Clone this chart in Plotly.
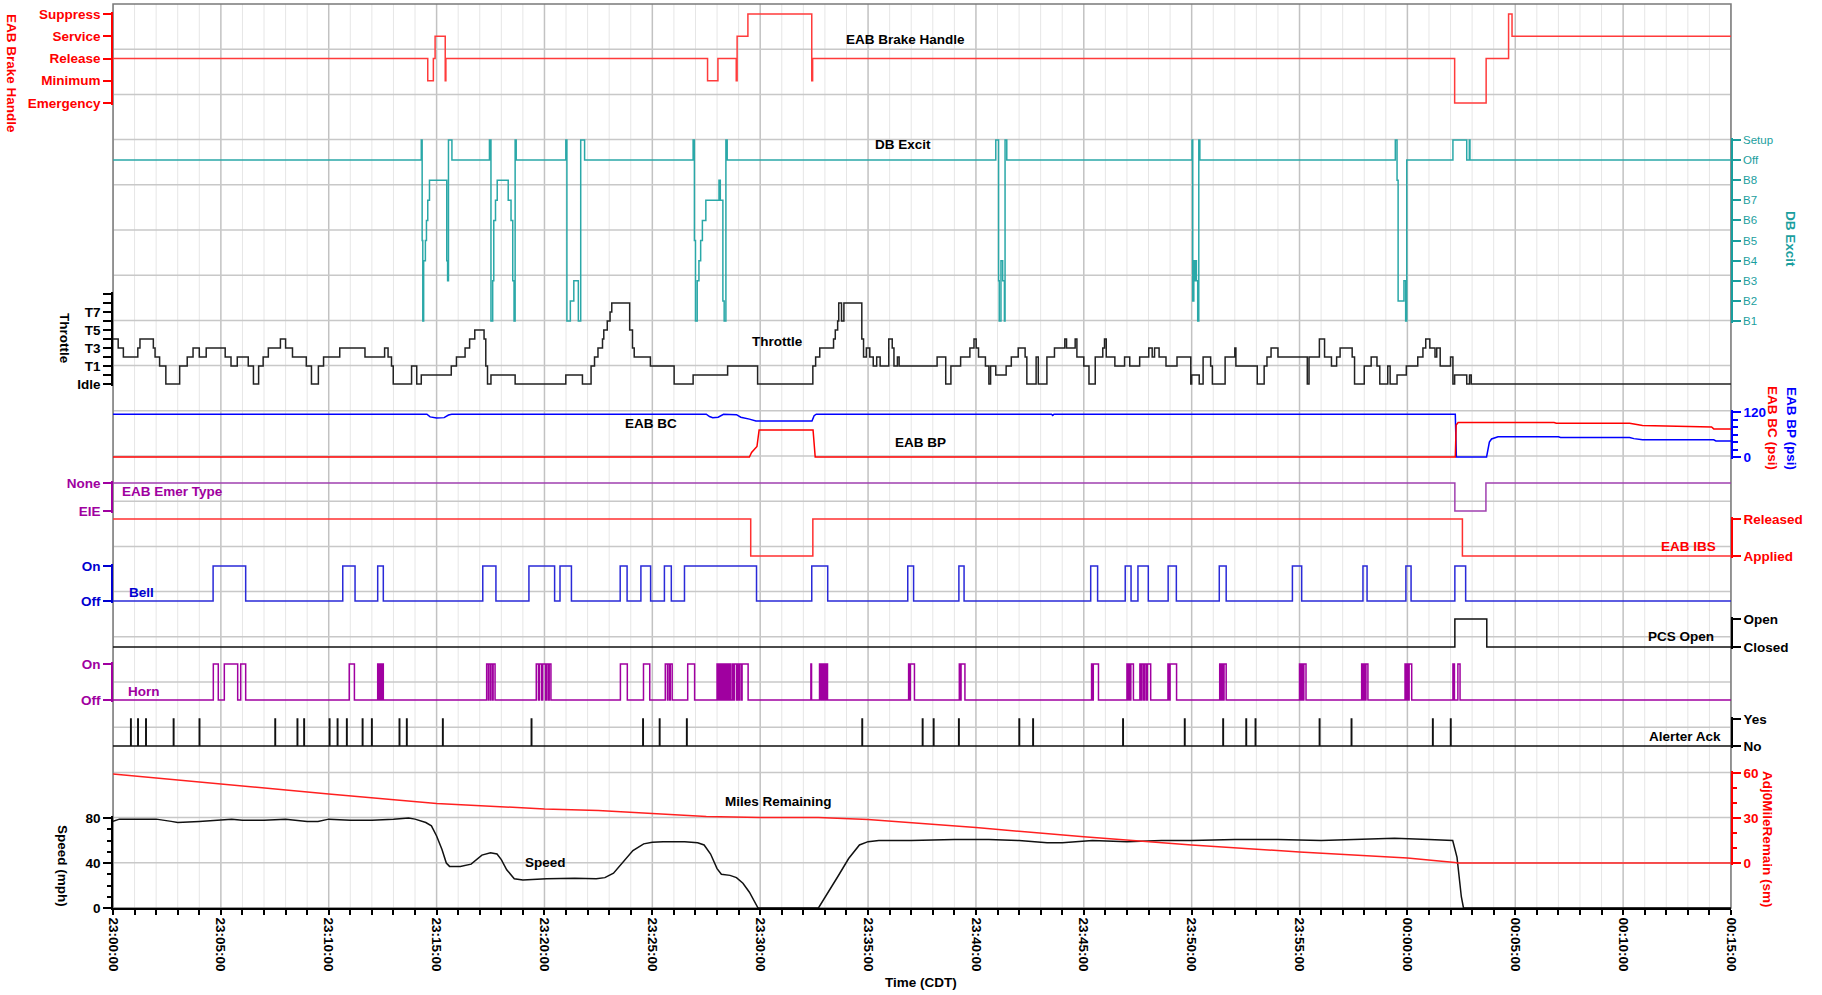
import plotly.graph_objects as go
from datetime import datetime, timedelta

BASE = datetime(2000, 1, 1, 23, 0, 0)
SPAN_MIN = 75  # 23:00:00 -> 00:15:00

# ---------------- data (time = minutes after 23:00:00 CDT) ----------------
BRAKE_LABELS = ["Emergency", "Minimum", "Release", "Service", "Suppress"]   # 0..4
BRAKE = [(0, 2), (14.59, 1), (14.85, 2), (14.93, 3), (15.40, 1), (15.43, 2),
         (27.56, 1), (28.04, 2), (28.89, 1), (28.93, 3), (29.43, 4), (32.39, 1), (32.43, 2),
         (62.19, 0), (63.65, 2), (64.69, 4), (64.85, 3), (75, 3)]

DB_LABELS = ["B1", "B2", "B3", "B4", "B5", "B6", "B7", "B8", "Off", "Setup"]  # 1..10
DB_EXCIT = [(0, 9), (14.29, 10), (14.33, 5), (14.36, 1), (14.40, 4), (14.48, 5), (14.53, 6), (14.59, 7),
            (14.67, 8), (15.47, 4), (15.51, 3), (15.55, 10), (15.71, 9),
            (17.45, 10), (17.52, 1), (17.60, 3), (17.65, 6), (17.73, 7), (17.81, 8), (18.32, 7), (18.45, 6),
            (18.53, 3), (18.59, 1), (18.64, 10), (18.69, 9),
            (20.99, 10), (21.04, 1), (21.20, 2), (21.36, 3), (21.57, 1), (21.68, 10), (21.86, 9),
            (26.89, 10), (26.95, 5), (27.00, 1), (27.08, 3), (27.16, 4), (27.24, 5), (27.32, 6), (27.48, 7),
            (28.09, 8), (28.15, 7), (28.27, 2), (28.33, 1), (28.41, 10), (28.47, 9),
            (40.92, 10), (41.05, 3), (41.08, 1), (41.16, 4), (41.24, 3), (41.32, 1), (41.35, 10), (41.43, 9),
            (50.02, 10), (50.05, 2), (50.10, 4), (50.14, 3), (50.18, 4), (50.22, 3), (50.28, 1), (50.33, 10),
            (50.38, 9),
            (59.44, 10), (59.52, 8), (59.57, 2), (59.84, 3), (59.92, 1), (59.97, 9),
            (62.11, 10), (62.75, 9), (62.87, 10), (62.90, 9), (75, 9)]

THROTTLE_LABELS = ["Idle", "", "T1", "", "T3", "", "T5", "", "T7", "", ""]  # 0..10
THROTTLE = [(0, 5), (0.24, 4), (0.48, 3), (1.15, 4), (1.25, 5), (1.87, 4), (1.95, 3), (2.16, 2), (2.45, 0),
            (3.09, 2), (3.44, 3), (3.71, 4), (4.0, 3), (4.32, 4), (5.2, 3), (5.47, 2), (5.76, 3), (6.27, 2),
            (6.51, 0), (6.75, 2), (6.96, 3), (7.2, 4), (7.76, 5), (8.0, 4), (8.32, 3), (8.96, 2), (9.2, 0),
            (9.52, 2), (9.76, 3), (10.51, 4), (11.68, 3), (12.59, 4), (12.75, 3), (12.91, 2), (12.99, 0),
            (13.84, 2), (14.08, 0), (14.29, 1), (15.68, 2), (15.92, 3), (16.32, 4), (16.53, 5), (16.77, 6),
            (17.2, 5), (17.28, 2), (17.36, 0), (17.52, 1), (18.64, 0), (20.99, 1), (21.76, 0), (22.16, 2),
            (22.32, 3), (22.48, 4), (22.69, 5), (22.75, 6), (22.91, 7), (23.04, 8), (23.12, 9), (23.95, 6),
            (24.08, 4), (24.16, 3), (24.91, 2),
            (26.01, 0), (26.89, 1), (28.49, 2), (29.88, 0), (32.44, 2), (32.57, 3), (32.76, 4), (33.4, 5),
            (33.48, 6), (33.59, 7), (33.64, 9), (33.77, 7), (33.88, 9), (34.71, 5), (34.79, 3), (34.92, 4),
            (35.08, 3), (35.24, 2), (35.4, 3), (35.56, 2), (35.96, 5), (36.12, 4), (36.2, 2), (36.36, 3),
            (36.44, 2), (38.2, 3), (38.6, 0), (38.84, 2), (39.29, 3), (39.72, 4), (39.91, 5), (40.01, 4),
            (40.12, 3), (40.44, 2), (40.6, 0), (40.68, 2), (40.92, 1), (41.4, 2), (41.64, 3), (41.96, 4),
            (42.28, 3), (42.36, 0), (42.79, 3), (42.89, 0), (43.29, 3), (43.64, 4), (44.12, 5), (44.2, 4),
            (44.6, 5), (44.68, 3), (45.0, 2), (45.24, 0), (45.53, 3), (45.88, 4), (45.96, 5), (46.04, 3),
            (46.44, 2), (46.89, 3), (47.13, 2), (47.59, 3), (48.01, 4), (48.17, 3), (48.28, 4), (48.49, 3),
            (48.81, 2), (49.32, 3), (49.96, 0), (50.0, 1),
            (50.35, 0), (50.53, 3), (50.88, 2), (50.96, 0), (51.55, 3), (52.0, 4), (52.05, 2), (53.04, 0),
            (53.36, 2), (53.49, 3), (53.68, 4), (54.0, 3), (55.36, 0), (55.44, 3), (55.92, 5), (56.16, 3),
            (56.48, 2), (56.72, 3), (56.88, 4), (57.44, 3), (57.55, 0), (58.0, 2), (58.32, 3), (58.59, 2),
            (58.72, 0), (59.09, 2), (59.2, 0), (59.52, 1), (59.95, 2), (60.48, 3), (60.72, 4), (60.85, 5),
            (61.04, 4), (61.28, 3), (61.36, 4), (61.52, 2), (62.0, 3), (62.11, 0), (62.19, 1), (62.75, 0),
            (62.88, 1), (62.96, 0), (75, 0)]

# brake pipe / brake cylinder pressures (psi)
EAB_BP = [(0, 114), (14.55, 114), (14.7, 107), (15.0, 104), (15.35, 105), (15.55, 112), (15.7, 114),
          (27.5, 114), (27.65, 108), (27.8, 105), (28.05, 106), (28.2, 112), (28.3, 114), (28.9, 113),
          (29.1, 106), (29.5, 101), (29.8, 96), (32.4, 96), (32.5, 110), (32.6, 114), (43.5, 114),
          (43.56, 111), (43.62, 114), (62.22, 114), (62.27, 0), (63.67, 0), (63.8, 40), (63.9, 48),
          (64.2, 54), (67.0, 54), (67.1, 52), (70.3, 52), (70.5, 49), (70.9, 46), (74.2, 46), (74.3, 43),
          (75, 43)]
EAB_BC = [(0, 0), (29.5, 0), (29.6, 12), (29.75, 22), (29.85, 28), (29.95, 72), (32.45, 72), (32.55, 0),
          (62.22, 0), (62.26, 85), (62.35, 92), (66.8, 92), (66.9, 90), (70.3, 90), (70.9, 84), (74.1, 80),
          (74.2, 75), (75, 75)]

EMER_LABELS = ["EIE", "None"]          # 0, 1
EMER_TYPE = [(0, 1), (62.20, 0), (63.64, 1), (75, 1)]
IBS_LABELS = ["Applied", "Released"]   # 0, 1
EAB_IBS = [(0, 1), (29.56, 0), (32.44, 1), (62.55, 0), (75, 0)]
PCS_LABELS = ["Closed", "Open"]        # 0, 1
PCS_OPEN = [(0, 0), (62.20, 1), (63.68, 0), (75, 0)]

ONOFF_LABELS = ["Off", "On"]
BELL_ON = [(4.64, 6.15), (10.65, 11.22), (12.27, 12.53), (17.14, 17.75), (19.28, 20.47), (20.72, 21.25),
           (23.51, 23.83), (24.47, 24.92), (25.56, 25.88), (26.49, 29.83), (32.39, 33.13), (36.84, 37.11),
           (39.21, 39.45), (45.32, 45.64), (46.92, 47.19), (47.51, 47.99), (48.91, 49.29), (51.28, 51.60),
           (54.67, 55.10), (57.94, 58.13), (59.93, 60.17), (62.20, 62.70)]
HORN_ON = [(4.65, 4.88), (5.16, 5.78), (5.92, 6.15), (10.95, 11.19),
           (12.27, 12.32), (12.34, 12.40), (12.42, 12.47), (12.49, 12.53),
           (17.32, 17.40), (17.42, 17.50), (17.52, 17.60), (17.62, 17.71),
           (19.62, 19.72), (19.76, 19.86), (19.92, 20.05), (20.10, 20.18), (20.22, 20.30),
           (23.52, 23.84), (24.59, 24.88), (25.60, 25.70), (25.72, 25.80), (25.83, 25.92), (26.64, 26.96),
           (28.00, 28.06), (28.08, 28.14), (28.18, 28.22), (28.26, 28.30), (28.36, 28.42), (28.46, 28.52),
           (28.58, 28.62), (28.70, 28.76), (28.80, 28.90), (28.94, 29.00), (29.04, 29.12), (29.16, 29.44),
           (32.35, 32.38), (32.75, 32.82), (32.85, 32.92), (32.95, 33.02), (33.05, 33.12),
           (36.88, 36.92), (36.96, 37.15), (39.23, 39.27), (39.31, 39.49), (45.36, 45.40), (45.44, 45.68),
           (47.00, 47.06), (47.09, 47.15), (47.18, 47.30), (47.60, 47.66), (47.70, 47.78), (47.82, 47.90),
           (47.95, 48.10), (48.90, 48.95), (49.00, 49.30), (51.30, 51.36), (51.40, 51.46), (51.50, 51.60),
           (55.00, 55.06), (55.10, 55.16), (55.20, 55.30), (57.88, 57.95), (57.98, 58.05), (58.08, 58.17),
           (59.89, 59.95), (59.98, 60.05), (60.08, 60.20), (62.11, 62.18), (62.34, 62.44)]

ALERT_LABELS = ["No", "Yes"]
ALERTER_ACK = [0.82, 1.15, 1.52, 2.8, 4.0, 7.51, 8.54, 8.85, 10.03, 10.4, 10.83, 11.56, 11.99, 13.27, 13.61,
               15.28, 19.39, 24.56, 25.33, 26.59, 34.72, 37.52, 38.03, 39.2, 42.0, 42.64, 46.81, 49.67,
               51.45, 52.52, 52.95, 55.92, 57.4, 61.17, 62.0]
ALERT_PULSE_MIN = 0.02

SPEED = [(0, 77), (0.3, 79), (1, 79), (2, 79), (2.7, 77), (3, 76), (4, 77), (5, 78), (5.5, 79), (6, 78),
         (7, 78), (8, 79), (9, 77), (9.5, 77), (10, 79), (11, 78), (12, 78), (13, 79), (13.7, 80), (14, 79),
         (14.5, 76), (14.76, 73), (15.0, 64), (15.25, 52), (15.45, 40), (15.6, 37), (16.1, 37), (16.6, 39),
         (16.85, 43), (17.1, 47), (17.5, 49), (17.8, 48), (18.0, 43), (18.25, 34), (18.6, 26), (19.0, 25),
         (20.1, 26), (21.4, 26.5), (22.4, 26), (22.8, 27), (23.2, 31), (23.6, 40), (24.1, 51), (24.6, 57),
         (25.0, 58.5), (25.5, 59), (26.5, 59), (27.1, 58), (27.4, 56), (27.7, 48), (28.0, 35), (28.2, 30),
         (28.6, 29), (28.9, 27), (29.2, 22), (29.5, 14), (29.75, 5), (29.9, 0), (32.7, 0), (33.1, 12),
         (33.6, 28), (34.1, 44), (34.6, 56), (35.0, 59), (35.5, 60), (37.0, 60), (38.0, 60.5), (39, 61),
         (40.6, 61), (42, 60), (43.3, 58), (44, 58), (45.4, 60), (47, 59), (48.6, 60), (50, 60), (52, 61),
         (54, 61), (56, 60), (58, 61), (59.4, 62), (61, 61), (62.1, 60), (62.3, 45), (62.5, 10), (62.6, 0),
         (75, 0)]
MILES_REMAIN = [(0, 59.3), (5, 52.5), (10, 46), (15, 39.7), (20, 36), (22.5, 35), (25, 32.9), (27.5, 31),
                (30, 30.4), (32.7, 30.3), (35, 29), (40, 23.6), (45, 17.5), (50, 12), (55, 7.3), (60, 3.4),
                (62.2, 0.4), (62.3, 0), (75, 0)]

# ---------------- layout helpers (pixel geometry of the page) ----------------
FONT = "Liberation Sans, Arial, Helvetica, sans-serif"
RED = "#ff0000"
TEAL = "#1a9e9e"
PURPLE = "#a000a0"
BLUE = "#0000ff"
BELL = "#2a2ad8"
BLACK = "#000000"
W, H = 1822, 995
PL, PR, PT, PB = 113, 1731, 4, 908


def fx(px):
    return (px - PL) / (PR - PL)


def fy(py):
    return (PB - py) / (PB - PT)


def tm(m):
    return BASE + timedelta(minutes=m)


def level_axis(v_lo, py_lo, v_hi, py_hi, pad_lo=2.0, pad_hi=2.0):
    s = (py_lo - py_hi) / (v_hi - v_lo)
    rng = [v_lo - pad_lo / s, v_hi + pad_hi / s]
    dom = [max(0.0, fy(py_lo + pad_lo)), min(1.0, fy(py_hi - pad_hi))]
    return rng, dom


def axis(side, color, rng, dom, tickvals=None, ticktext=None, size=13.5, weight="bold",
         dtick=None, minor=None, ticklen=8):
    d = dict(anchor="x", side=side, range=rng, domain=dom, showgrid=False, zeroline=False,
             showline=True, linecolor=color, linewidth=1.5, ticks="outside", ticklen=ticklen,
             tickwidth=1.5, tickcolor=color, fixedrange=True, automargin=False,
             tickfont=dict(family=FONT, size=size, color=color, weight=weight))
    if tickvals is not None:
        d.update(tickmode="array", tickvals=tickvals, ticktext=ticktext)
    else:
        d.update(tickmode="linear", tick0=0, dtick=dtick)
    if minor:
        d["minor"] = minor
    return d


def steps(pairs):
    return [tm(t) for t, _ in pairs], [v for _, v in pairs]


def onoff(intervals):
    xs, ys = [tm(0)], [0]
    for a, b in intervals:
        xs += [tm(a), tm(b)]
        ys += [1, 0]
    xs.append(tm(SPAN_MIN))
    ys.append(0)
    return xs, ys


def pulses(times, width):
    return onoff([(t, t + width) for t in times])


fig = go.Figure()


def add(xy, yaxis, color, width=1.5, shape="hv"):
    fig.add_trace(go.Scatter(x=xy[0], y=xy[1], yaxis=yaxis, xaxis="x", mode="lines",
                             line=dict(color=color, width=width, shape=shape),
                             hoverinfo="skip", showlegend=False))


layout_axes = {}

r, d = level_axis(0, 103, 4, 14)
layout_axes["yaxis2"] = axis("left", RED, r, d, list(range(5)), BRAKE_LABELS)
add(steps(BRAKE), "y2", "#ff3b3b")

r, d = level_axis(1, 321, 10, 140)
layout_axes["yaxis3"] = axis("right", TEAL, r, d, list(range(1, 11)), DB_LABELS, size=11.5,
                             weight="normal", ticklen=8)
add(steps(DB_EXCIT), "y3", "#2aa8a8")

r, d = level_axis(0, 384, 10, 294)
layout_axes["yaxis4"] = axis("left", BLACK, r, d, list(range(11)), THROTTLE_LABELS)
add(steps(THROTTLE), "y4", "#222222")

r, d = level_axis(0, 457, 120, 412)
layout_axes["yaxis5"] = axis("right", BLUE, r, d, dtick=120,
                             minor=dict(tickmode="linear", tick0=0, dtick=20, ticks="outside",
                                        ticklen=5, tickcolor=BLUE, tickwidth=1.5))
add(steps(EAB_BP), "y5", BLUE, shape="linear")
add(steps(EAB_BC), "y5", RED, shape="linear")

r, d = level_axis(0, 511, 1, 483)
layout_axes["yaxis6"] = axis("left", PURPLE, r, d, [0, 1], EMER_LABELS)
add(steps(EMER_TYPE), "y6", "#a040b0")

r, d = level_axis(0, 556, 1, 519)
layout_axes["yaxis7"] = axis("right", RED, r, d, [0, 1], IBS_LABELS)
add(steps(EAB_IBS), "y7", "#ff3030")

r, d = level_axis(0, 601, 1, 566)
layout_axes["yaxis8"] = axis("left", "#0000d0", r, d, [0, 1], ONOFF_LABELS)
add(onoff(BELL_ON), "y8", BELL)

r, d = level_axis(0, 647, 1, 619)
layout_axes["yaxis9"] = axis("right", BLACK, r, d, [0, 1], PCS_LABELS)
add(steps(PCS_OPEN), "y9", "#111111")

r, d = level_axis(0, 700, 1, 664)
layout_axes["yaxis10"] = axis("left", PURPLE, r, d, [0, 1], ONOFF_LABELS)
add(onoff(HORN_ON), "y10", PURPLE)

r, d = level_axis(0, 746, 1, 719)
layout_axes["yaxis11"] = axis("right", BLACK, r, d, [0, 1], ALERT_LABELS)
add(pulses(ALERTER_ACK, ALERT_PULSE_MIN), "y11", "#111111")

r, d = level_axis(0, 908, 80, 818, pad_lo=0)
layout_axes["yaxis12"] = axis("left", BLACK, r, d, dtick=40,
                              minor=dict(tickmode="linear", tick0=0, dtick=10, ticks="outside",
                                         ticklen=4, tickcolor=BLACK, tickwidth=1.5))
r2, d2 = level_axis(0, 863, 60, 773)
layout_axes["yaxis13"] = axis("right", RED, r2, d2, dtick=30,
                              minor=dict(tickmode="linear", tick0=0, dtick=10, ticks="outside",
                                         ticklen=4, tickcolor=RED, tickwidth=1.5))
add(steps(MILES_REMAIN), "y13", "#ff2020", shape="linear")
add(steps(SPEED), "y12", "#111111", shape="linear")

# ---------------- grid (drawn below all traces) ----------------
shapes = []
for m in range(0, SPAN_MIN + 1):
    major = (m % 5 == 0)
    shapes.append(dict(type="line", xref="x", yref="paper", x0=tm(m), x1=tm(m), y0=0, y1=1,
                       layer="below",
                       line=dict(color="#c2c2c2" if major else "#e6e6e6", width=1.5 if major else 1)))
for k in range(1, 20):
    shapes.append(dict(type="line", xref="paper", yref="paper", x0=0, x1=1, y0=k / 20, y1=k / 20,
                       layer="below", line=dict(color="#c8c8c8", width=1.5)))
shapes.append(dict(type="rect", xref="paper", yref="paper", x0=0, x1=1, y0=0, y1=1, layer="below",
                   line=dict(color="#7a7a7a", width=1.5)))


def ann(text, px, py, color=BLACK, xanchor="center", angle=0, size=13.5, weight="bold"):
    return dict(text=text, x=fx(px), y=fy(py), xref="paper", yref="paper", xanchor=xanchor,
                yanchor="middle", showarrow=False, textangle=angle,
                font=dict(family=FONT, size=size, color=color, weight=weight))


annotations = [
    # axis titles
    ann("EAB Brake Handle", 12, 73, RED, angle=90),
    ann("Throttle", 64, 338, BLACK, angle=90),
    ann("Speed (mph)", 63, 866, BLACK, angle=90),
    ann("DB Excit", 1791, 239, TEAL, angle=90),
    ann("EAB BP (psi)", 1791, 428, BLUE, angle=90),
    ann("EAB BC (psi)", 1772, 428, RED, angle=90),
    ann("Adj0MileRemain (sm)", 1768, 840, RED, angle=90),
    ann("Time (CDT)", 921, 982, BLACK),
    # in-plot labels
    ann("EAB Brake Handle", 905, 40),
    ann("DB Excit", 903, 144),
    ann("Throttle", 777, 341),
    ann("EAB BC", 651, 424),
    ann("EAB BP", 920, 443),
    ann("EAB Emer Type", 120, 492, PURPLE, xanchor="left"),
    ann("EAB IBS", 1718, 546, RED, xanchor="right"),
    ann("Bell", 127, 592, "#0000d0", xanchor="left"),
    ann("PCS Open", 1716, 636, BLACK, xanchor="right"),
    ann("Horn", 126, 691, PURPLE, xanchor="left"),
    ann("Alerter Ack", 1723, 736, BLACK, xanchor="right"),
    ann("Miles Remaining", 778, 801),
    ann("Speed", 545, 862),
]

fig.update_layout(
    width=W, height=H, autosize=False,
    margin=dict(l=PL, r=W - PR, t=PT, b=H - PB, pad=0, autoexpand=False),
    paper_bgcolor="white", plot_bgcolor="rgba(0,0,0,0)",
    showlegend=False, hovermode=False,
    xaxis=dict(type="date", range=[tm(0), tm(SPAN_MIN)], anchor="y12", domain=[0, 1],
               tickmode="linear", tick0=tm(0), dtick=5 * 60 * 1000, tickformat="%H:%M:%S",
               tickangle=90, ticks="outside", ticklen=5, tickcolor=BLACK, tickwidth=1.5,
               showline=True, linecolor=BLACK, linewidth=1.5, showgrid=False, zeroline=False,
               fixedrange=True, automargin=False,
               minor=dict(tickmode="linear", dtick=60 * 1000, ticks="outside", ticklen=5,
                          tickcolor=BLACK, tickwidth=1.5, showgrid=False),
               tickfont=dict(family=FONT, size=13.5, color=BLACK, weight="bold")),
    shapes=shapes,
    annotations=annotations,
    **layout_axes,
)

fig.write_html("out.html", config={"displayModeBar": False},
               post_script="document.body.style.margin='0px';document.body.style.overflow='hidden';")
